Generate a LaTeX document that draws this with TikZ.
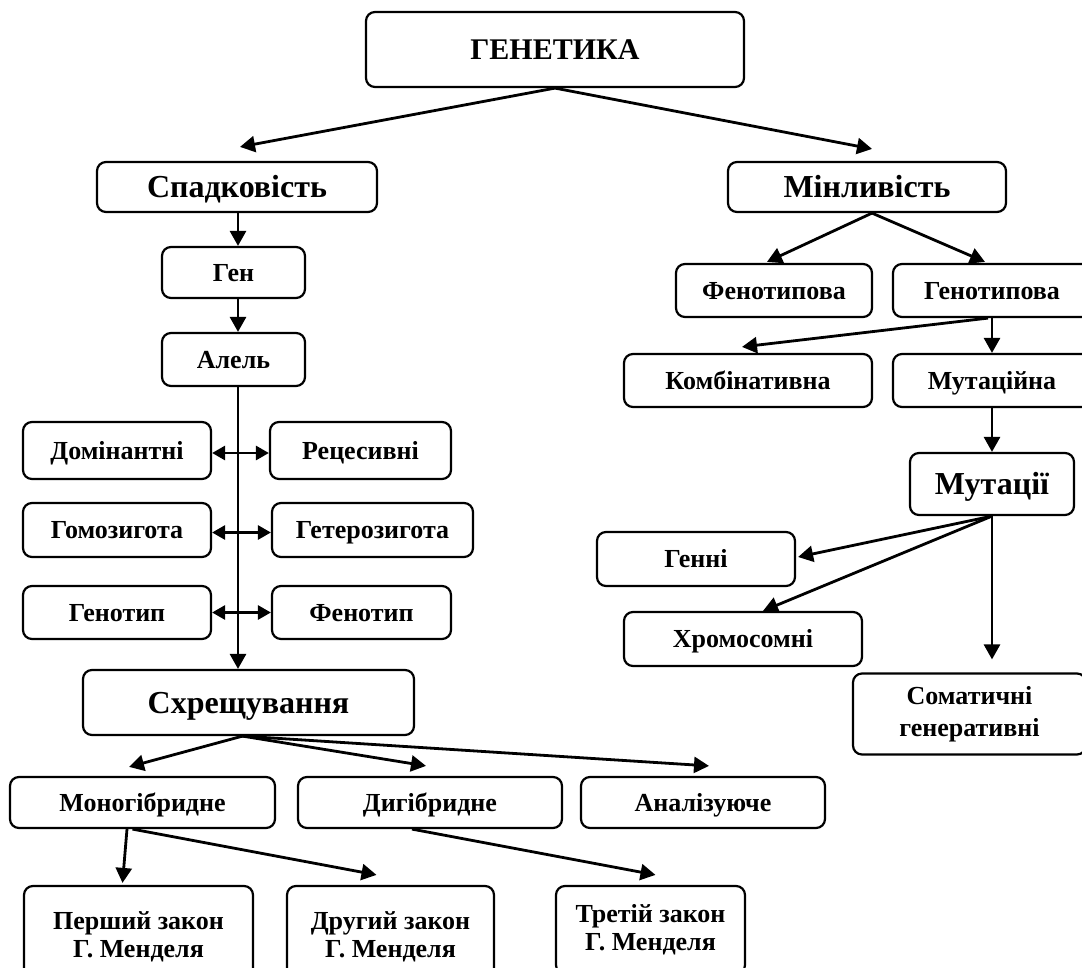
\documentclass[tikz,border=0pt]{standalone}
\usepackage{fontspec}
\setmainfont{Liberation Serif}
\usetikzlibrary{arrows.meta,calc}
\newcommand{\nfont}{\fontsize{26}{28}\selectfont\bfseries}
\newcommand{\bfont}{\fontsize{32}{34}\selectfont\bfseries}
\newcommand{\tfont}{\fontsize{30}{32}\selectfont\bfseries}
\tikzset{
  base/.style={draw, line width=2.2pt, rounded corners=9pt, inner sep=0pt, align=center, font=\nfont},
  box/.style={base, text height=17.2pt, text depth=0pt},
  bigbox/.style={base, font=\bfont, text height=21.2pt, text depth=0pt},
  titlebox/.style={base, font=\tfont, text height=19.9pt, text depth=0pt},
  arr/.style={line width=2.8pt, -{Triangle[length=15pt,width=16pt]}},
  dbl/.style={line width=2.8pt, {Triangle[length=13pt,width=14pt]}-{Triangle[length=13pt,width=14pt]}},
}
\begin{document}
\begin{tikzpicture}[x=1pt,y=-1pt]
\clip (0,0) rectangle (1082,967);
\fill[white] (0,0) rectangle (1082,967);
% nodes
\node[titlebox, minimum width=378, minimum height=75] (gen) at (555,49.5) {ГЕНЕТИКА};
\node[bigbox, minimum width=280, minimum height=50] (sp) at (237,187) {Спадковість};
\node[bigbox, minimum width=278, minimum height=50] (min) at (867,187) {Мінливість};
\node[box, minimum width=143, minimum height=51] (gen1) at (233.5,272.5) {Ген};
\node[box, minimum width=143, minimum height=53] (al) at (233.5,359.5) {Алель};
\node[box, minimum width=188, minimum height=57] (dom) at (117,450.5) {Домінантні};
\node[box, minimum width=181, minimum height=57] (rec) at (360.5,450.5) {Рецесивні};
\node[box, minimum width=188, minimum height=54] (gomo) at (117,530) {Гомозигота};
\node[box, minimum width=201, minimum height=54] (het) at (372.5,530) {Гетерозигота};
\node[box, minimum width=188, minimum height=53] (gtip) at (117,612.5) {Генотип};
\node[box, minimum width=179, minimum height=53] (ftip) at (361.5,612.5) {Фенотип};
\node[bigbox, minimum width=331, minimum height=65] (sch) at (248.5,702.5) {Схрещування};
\node[box, minimum width=265, minimum height=51] (mono) at (142.5,802.5) {Моногібридне};
\node[box, minimum width=264, minimum height=51] (di) at (430,802.5) {Дигібридне};
\node[box, minimum width=244, minimum height=51] (an) at (703,802.5) {Аналізуюче};
\node[base, minimum width=229, minimum height=102] (l1) at (138.5,937) {Перший закон\\Г. Менделя};
\node[base, minimum width=207, minimum height=102] (l2) at (390.5,937) {Другий закон\\Г. Менделя};
\node[base, minimum width=189, minimum height=88] (l3) at (650.5,930) {Третій закон\\Г. Менделя};
\node[box, minimum width=196, minimum height=53] (fen) at (774,290.5) {Фенотипова};
\node[box, minimum width=198, minimum height=53] (gnt) at (992,290.5) {Генотипова};
\node[box, minimum width=248, minimum height=53] (komb) at (748,380.5) {Комбінативна};
\node[box, minimum width=198, minimum height=53] (mut) at (992,380.5) {Мутаційна};
\node[bigbox, minimum width=164, minimum height=62] (muts) at (992,484) {Мутації};
\node[box, minimum width=198, minimum height=54] (genni) at (696,559) {Генні};
\node[box, minimum width=238, minimum height=54] (chrom) at (743,639) {Хромосомні};
\node[base, font=\fontsize{26}{32}\selectfont\bfseries, minimum width=233, minimum height=81] (som) at (969.5,714) {Соматичні\\генеративні};
\coordinate (vx) at (238,0);
% connectors
\draw[arr] (gen.south) -- ($(sp.north)+(3,-14)$);
\draw[arr] (gen.south) -- ($(min.north)+(5,-12)$);
\draw[arr] (vx |- sp.south) -- (vx |- gen1.north);
\draw[arr] (vx |- gen1.south) -- (vx |- al.north);
\draw[arr] (vx |- al.south) -- (vx |- sch.north);
\draw[dbl] ($(dom.east)+(0,2.5)$) -- ($(rec.west)+(0,2.5)$);
\draw[dbl] ($(gomo.east)+(0,2.5)$) -- ($(het.west)+(0,2.5)$);
\draw[dbl] (gtip.east) -- (ftip.west);
\draw[arr] ($(sch.south)+(-6,0)$) -- ($(mono.north)+(-13.5,-9)$);
\draw[arr] ($(sch.south)+(-6,0)$) -- ($(di.north)+(-4,-10)$);
\draw[arr] ($(sch.south)+(-6,0)$) -- ($(an.north)+(6,-10)$);
\draw[arr] ($(mono.south)+(-15.5,0)$) -- ($(l1.north)+(-16,-2)$);
\draw[arr] ($(mono.south)+(-10,0)$) -- ($(l2.north)+(-14,-10)$);
\draw[arr] ($(di.south)+(-18,0)$) -- ($(l3.north)+(5,-10)$);
\draw[arr] ($(min.south)+(5,0)$) -- ($(fen.north)+(-7,-1)$);
\draw[arr] ($(min.south)+(5,0)$) -- ($(gnt.north)+(-7,-1)$);
\draw[arr] ($(gnt.south)+(-4,0)$) -- ($(komb.north)+(-6,-6)$);
\draw[arr] (gnt.south) -- (mut.north);
\draw[arr] (mut.south) -- (muts.north);
\draw[arr] (muts.south) -- ($(genni.east)+(2,-2)$);
\draw[arr] (muts.south) -- ($(chrom.north)+(20,0)$);
\draw[arr, shorten >=13pt] (muts.south) -- (muts.south |- som.north);
\end{tikzpicture}
\end{document}
